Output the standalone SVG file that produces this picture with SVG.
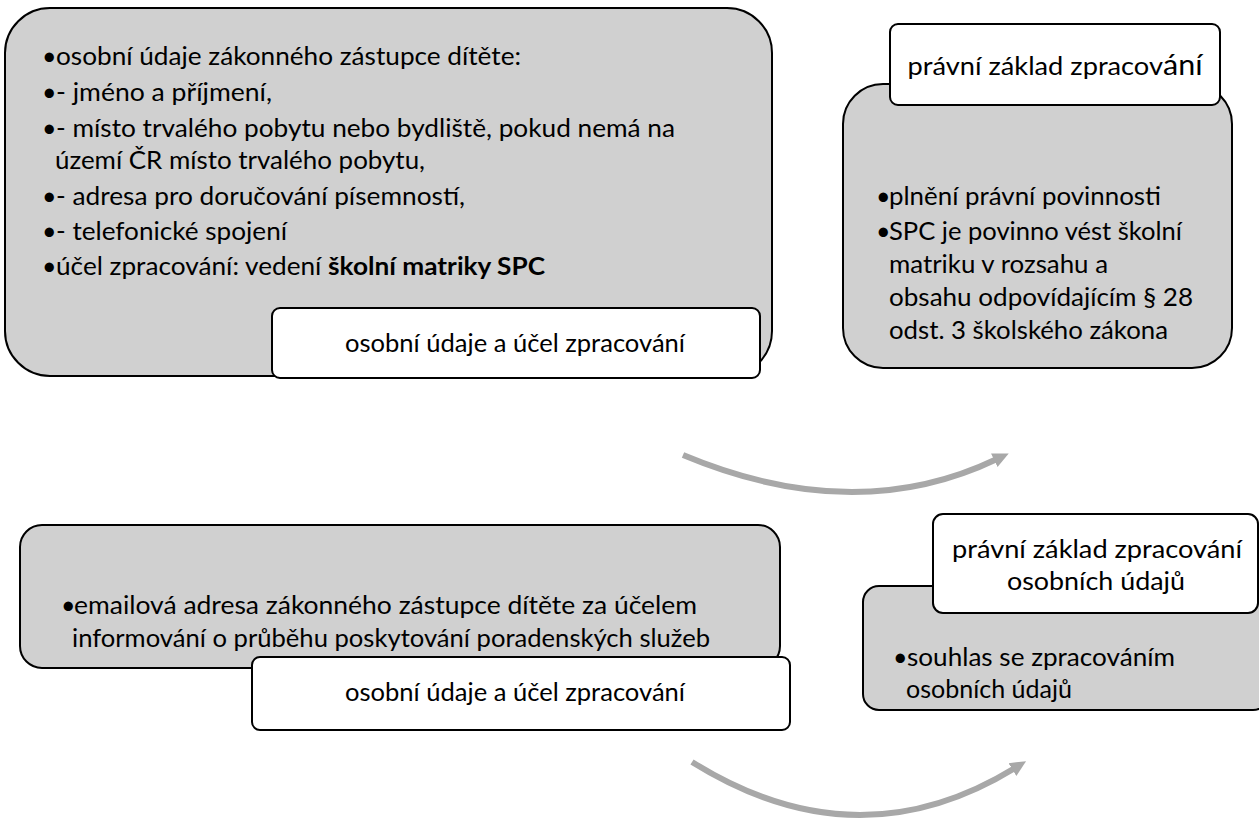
<svg xmlns="http://www.w3.org/2000/svg" width="1259" height="821" viewBox="0 0 1259 821">
<style>
.gray{fill:#d0d0d0;stroke:#000;stroke-width:2}
.lbl{fill:#fff;stroke:#000;stroke-width:2}
.t{font-family:Lato,"Liberation Sans",sans-serif;font-size:25px;fill:#000}
.c{text-anchor:middle}
.b{font-weight:bold}
.arr{fill:none;stroke:#a8a8a8;stroke-width:6}
</style>
<defs>
<marker id="ah" markerUnits="userSpaceOnUse" markerWidth="17" markerHeight="17" refX="3" refY="8.5" orient="auto">
<path d="M0,1 L16,8.5 L0,16 z" fill="#a8a8a8"/>
</marker>
</defs>
<rect width="1259" height="821" fill="#fff"/>
<g id="connectors">
<path class="arr" d="M683,455 Q855,527 997,459" marker-end="url(#ah)"/>
<path class="arr" d="M692,762 Q857,865 1015,768" marker-end="url(#ah)"/>
</g>
<g id="node1">
<rect class="gray" x="5" y="8" width="767" height="368" rx="45"/>
<text class="t" x="42" y="65">•</text><text class="t" x="56" y="65" textLength="465" lengthAdjust="spacingAndGlyphs">osobní údaje zákonného zástupce dítěte:</text>
<text class="t" x="42" y="101">•</text><text class="t" x="56" y="101" textLength="216" lengthAdjust="spacingAndGlyphs">- jméno a příjmení,</text>
<text class="t" x="42" y="137">•</text><text class="t" x="56" y="137" textLength="619" lengthAdjust="spacingAndGlyphs">- místo trvalého pobytu nebo bydliště, pokud nemá na</text>
<text class="t" x="55" y="169" textLength="370" lengthAdjust="spacingAndGlyphs">území ČR místo trvalého pobytu,</text>
<text class="t" x="42" y="205">•</text><text class="t" x="56" y="205" textLength="409" lengthAdjust="spacingAndGlyphs">- adresa pro doručování písemností,</text>
<text class="t" x="42" y="240">•</text><text class="t" x="56" y="240" textLength="231" lengthAdjust="spacingAndGlyphs">- telefonické spojení</text>
<text class="t" x="42" y="275">•</text><text class="t" x="56" y="275" textLength="489" lengthAdjust="spacingAndGlyphs">účel zpracování: vedení <tspan class="b">školní matriky SPC</tspan></text>
</g>
<g id="label1">
<rect class="lbl" x="272" y="308" width="488" height="70" rx="8"/>
<text class="t c" x="515" y="352" textLength="340" lengthAdjust="spacingAndGlyphs">osobní údaje a účel zpracování</text>
</g>
<g id="node2">
<rect class="gray" x="843" y="84" width="389" height="284" rx="40"/>
<text class="t" x="876" y="205">•</text><text class="t" x="889" y="205" textLength="272" lengthAdjust="spacingAndGlyphs">plnění právní povinnosti</text>
<text class="t" x="876" y="240">•</text><text class="t" x="889" y="240" textLength="293" lengthAdjust="spacingAndGlyphs">SPC je povinno vést školní</text>
<text class="t" x="889" y="273" textLength="219" lengthAdjust="spacingAndGlyphs">matriku v rozsahu a</text>
<text class="t" x="889" y="306" textLength="304" lengthAdjust="spacingAndGlyphs">obsahu odpovídajícím § 28</text>
<text class="t" x="889" y="339" textLength="279" lengthAdjust="spacingAndGlyphs">odst. 3 školského zákona</text>
</g>
<g id="label2">
<rect class="lbl" x="890" y="24" width="330" height="81" rx="8"/>
<text class="t c" x="1055" y="75" textLength="295" lengthAdjust="spacingAndGlyphs">právní základ zpracov<tspan style="font-size:28px">ání</tspan></text>
</g>
<g id="node3">
<rect class="gray" x="20" y="525" width="760" height="143" rx="22"/>
<text class="t" x="61" y="614">•</text><text class="t" x="74" y="614" textLength="623" lengthAdjust="spacingAndGlyphs">emailová adresa zákonného zástupce dítěte za účelem</text>
<text class="t" x="72" y="647" textLength="638" lengthAdjust="spacingAndGlyphs">informování o průběhu poskytování poradenských služeb</text>
</g>
<g id="label3">
<rect class="lbl" x="252" y="657" width="538" height="73" rx="8"/>
<text class="t c" x="515" y="701" textLength="340" lengthAdjust="spacingAndGlyphs">osobní údaje a účel zpracování</text>
</g>
<g id="node4">
<rect class="gray" x="863" y="586" width="406" height="124" rx="16"/>
<text class="t" x="893" y="666">•</text><text class="t" x="907" y="666" textLength="268" lengthAdjust="spacingAndGlyphs">souhlas se zpracováním</text>
<text class="t" x="906" y="698" textLength="166" lengthAdjust="spacingAndGlyphs">osobních údajů</text>
</g>
<g id="label4">
<rect class="lbl" x="933" y="514" width="325" height="99" rx="10"/>
<text class="t c" x="1097" y="558" textLength="290" lengthAdjust="spacingAndGlyphs">právní základ zpracování</text>
<text class="t c" x="1096" y="590" textLength="178" lengthAdjust="spacingAndGlyphs">osobních údajů</text>
</g>
</svg>
